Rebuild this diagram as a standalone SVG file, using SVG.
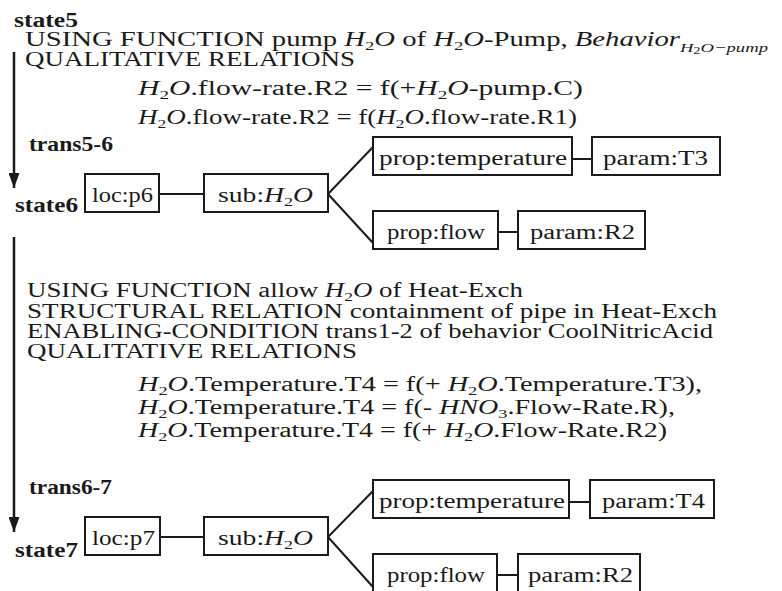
<svg xmlns="http://www.w3.org/2000/svg" width="782" height="591" viewBox="0 0 782 591">
<defs>
<style>
text{font-family:"Liberation Serif","Times New Roman",serif;font-size:20px;fill:#1a1a1a}
.i{font-style:italic}
.sb{font-size:13px}
.sb2{font-size:10px}
.lbl{font-weight:bold}
.box{fill:none;stroke:#1a1a1a;stroke-width:2}
.cn{fill:none;stroke:#1a1a1a;stroke-width:2}
.ar{fill:none;stroke:#1a1a1a;stroke-width:2.5}
</style>
<marker id="ah" markerUnits="userSpaceOnUse" markerWidth="16" markerHeight="11" refX="15" refY="5.5" orient="auto">
<path d="M0,0 L15,5.5 L0,11 Z" fill="#1a1a1a"/>
</marker>
</defs>
<rect width="782" height="591" fill="#ffffff"/>

<g id="text-block-1">
<text class="lbl" x="14" y="27" textLength="64" lengthAdjust="spacingAndGlyphs">state5</text>
<text x="25" y="46" textLength="743" lengthAdjust="spacingAndGlyphs">USING FUNCTION pump <tspan class="i">H</tspan><tspan class="sb" dy="4">2</tspan><tspan class="i" dy="-4">O</tspan> of <tspan class="i">H</tspan><tspan class="sb" dy="4">2</tspan><tspan class="i" dy="-4">O</tspan>-Pump, <tspan class="i">Behavior</tspan><tspan class="i sb" dy="6">H</tspan><tspan class="sb2" dy="2">2</tspan><tspan class="i sb" dy="-2">O−pump</tspan></text>
<text x="25" y="66" textLength="330" lengthAdjust="spacingAndGlyphs">QUALITATIVE RELATIONS</text>
<text x="138" y="95" textLength="445" lengthAdjust="spacingAndGlyphs"><tspan class="i">H</tspan><tspan class="sb" dy="4">2</tspan><tspan class="i" dy="-4">O</tspan>.flow-rate.R2 = f(+<tspan class="i">H</tspan><tspan class="sb" dy="4">2</tspan><tspan class="i" dy="-4">O</tspan>-pump.C)</text>
<text x="138" y="124" textLength="439" lengthAdjust="spacingAndGlyphs"><tspan class="i">H</tspan><tspan class="sb" dy="4">2</tspan><tspan class="i" dy="-4">O</tspan>.flow-rate.R2 = f(<tspan class="i">H</tspan><tspan class="sb" dy="4">2</tspan><tspan class="i" dy="-4">O</tspan>.flow-rate.R1)</text>
<text class="lbl" x="29" y="151" textLength="84" lengthAdjust="spacingAndGlyphs">trans5-6</text>
<text class="lbl" x="15" y="212" textLength="63" lengthAdjust="spacingAndGlyphs">state6</text>
</g>

<g id="text-block-2">
<text x="27" y="297" textLength="496" lengthAdjust="spacingAndGlyphs">USING FUNCTION allow <tspan class="i">H</tspan><tspan class="sb" dy="4">2</tspan><tspan class="i" dy="-4">O</tspan> of Heat-Exch</text>
<text x="27" y="318" textLength="690" lengthAdjust="spacingAndGlyphs">STRUCTURAL RELATION containment of pipe in Heat-Exch</text>
<text x="27" y="338" textLength="686" lengthAdjust="spacingAndGlyphs">ENABLING-CONDITION trans1-2 of behavior CoolNitricAcid</text>
<text x="27" y="358" textLength="330" lengthAdjust="spacingAndGlyphs">QUALITATIVE RELATIONS</text>
<text x="138" y="391" textLength="564" lengthAdjust="spacingAndGlyphs"><tspan class="i">H</tspan><tspan class="sb" dy="4">2</tspan><tspan class="i" dy="-4">O</tspan>.Temperature.T4 = f(+ <tspan class="i">H</tspan><tspan class="sb" dy="4">2</tspan><tspan class="i" dy="-4">O</tspan>.Temperature.T3),</text>
<text x="138" y="414" textLength="537" lengthAdjust="spacingAndGlyphs"><tspan class="i">H</tspan><tspan class="sb" dy="4">2</tspan><tspan class="i" dy="-4">O</tspan>.Temperature.T4 = f(- <tspan class="i">HNO</tspan><tspan class="sb" dy="4">3</tspan><tspan dy="-4">.Flow-Rate.R),</tspan></text>
<text x="138" y="437" textLength="529" lengthAdjust="spacingAndGlyphs"><tspan class="i">H</tspan><tspan class="sb" dy="4">2</tspan><tspan class="i" dy="-4">O</tspan>.Temperature.T4 = f(+ <tspan class="i">H</tspan><tspan class="sb" dy="4">2</tspan><tspan class="i" dy="-4">O</tspan>.Flow-Rate.R2)</text>
<text class="lbl" x="29" y="494" textLength="83" lengthAdjust="spacingAndGlyphs">trans6-7</text>
<text class="lbl" x="15" y="557" textLength="63" lengthAdjust="spacingAndGlyphs">state7</text>
</g>

<g id="connectors">
<line class="ar" x1="14" y1="52" x2="14" y2="188" marker-end="url(#ah)"/>
<line class="ar" x1="14" y1="237" x2="14" y2="532" marker-end="url(#ah)"/>
<line class="cn" x1="159" y1="194" x2="204" y2="194"/>
<line class="cn" x1="328" y1="194" x2="373" y2="147"/>
<line class="cn" x1="328" y1="194" x2="373" y2="243"/>
<line class="cn" x1="572" y1="159" x2="592" y2="159"/>
<line class="cn" x1="498" y1="232" x2="518" y2="232"/>
<line class="cn" x1="160" y1="537" x2="204" y2="537"/>
<line class="cn" x1="328" y1="537" x2="373" y2="491"/>
<line class="cn" x1="328" y1="537" x2="373" y2="587"/>
<line class="cn" x1="569" y1="502" x2="590" y2="502"/>
<line class="cn" x1="497" y1="575" x2="518" y2="575"/>
</g>

<g id="loc-p6"><rect class="box" x="85" y="174" width="74" height="38"/><text x="92" y="202" textLength="61" lengthAdjust="spacingAndGlyphs">loc:p6</text></g>
<g id="sub-h2o-6"><rect class="box" x="204" y="174" width="124" height="38"/><text x="218" y="202" textLength="95" lengthAdjust="spacingAndGlyphs">sub:<tspan class="i">H</tspan><tspan class="sb" dy="4">2</tspan><tspan class="i" dy="-4">O</tspan></text></g>
<g id="prop-temperature-6"><rect class="box" x="373" y="137" width="199" height="38"/><text x="379" y="165" textLength="188" lengthAdjust="spacingAndGlyphs">prop:temperature</text></g>
<g id="param-t3"><rect class="box" x="592" y="137" width="128" height="38"/><text x="603" y="165" textLength="105" lengthAdjust="spacingAndGlyphs">param:T3</text></g>
<g id="prop-flow-6"><rect class="box" x="373" y="211" width="125" height="38"/><text x="387" y="239" textLength="98" lengthAdjust="spacingAndGlyphs">prop:flow</text></g>
<g id="param-r2-6"><rect class="box" x="518" y="211" width="127" height="38"/><text x="530" y="239" textLength="105" lengthAdjust="spacingAndGlyphs">param:R2</text></g>

<g id="loc-p7"><rect class="box" x="85" y="517" width="75" height="38"/><text x="92" y="545" textLength="63" lengthAdjust="spacingAndGlyphs">loc:p7</text></g>
<g id="sub-h2o-7"><rect class="box" x="204" y="517" width="124" height="38"/><text x="218" y="545" textLength="95" lengthAdjust="spacingAndGlyphs">sub:<tspan class="i">H</tspan><tspan class="sb" dy="4">2</tspan><tspan class="i" dy="-4">O</tspan></text></g>
<g id="prop-temperature-7"><rect class="box" x="373" y="480" width="196" height="38"/><text x="379" y="508" textLength="186" lengthAdjust="spacingAndGlyphs">prop:temperature</text></g>
<g id="param-t4"><rect class="box" x="590" y="480" width="124" height="38"/><text x="602" y="508" textLength="103" lengthAdjust="spacingAndGlyphs">param:T4</text></g>
<g id="prop-flow-7"><rect class="box" x="373" y="554" width="124" height="40"/><text x="387" y="582" textLength="98" lengthAdjust="spacingAndGlyphs">prop:flow</text></g>
<g id="param-r2-7"><rect class="box" x="518" y="554" width="122" height="40"/><text x="528" y="582" textLength="105" lengthAdjust="spacingAndGlyphs">param:R2</text></g>
</svg>
